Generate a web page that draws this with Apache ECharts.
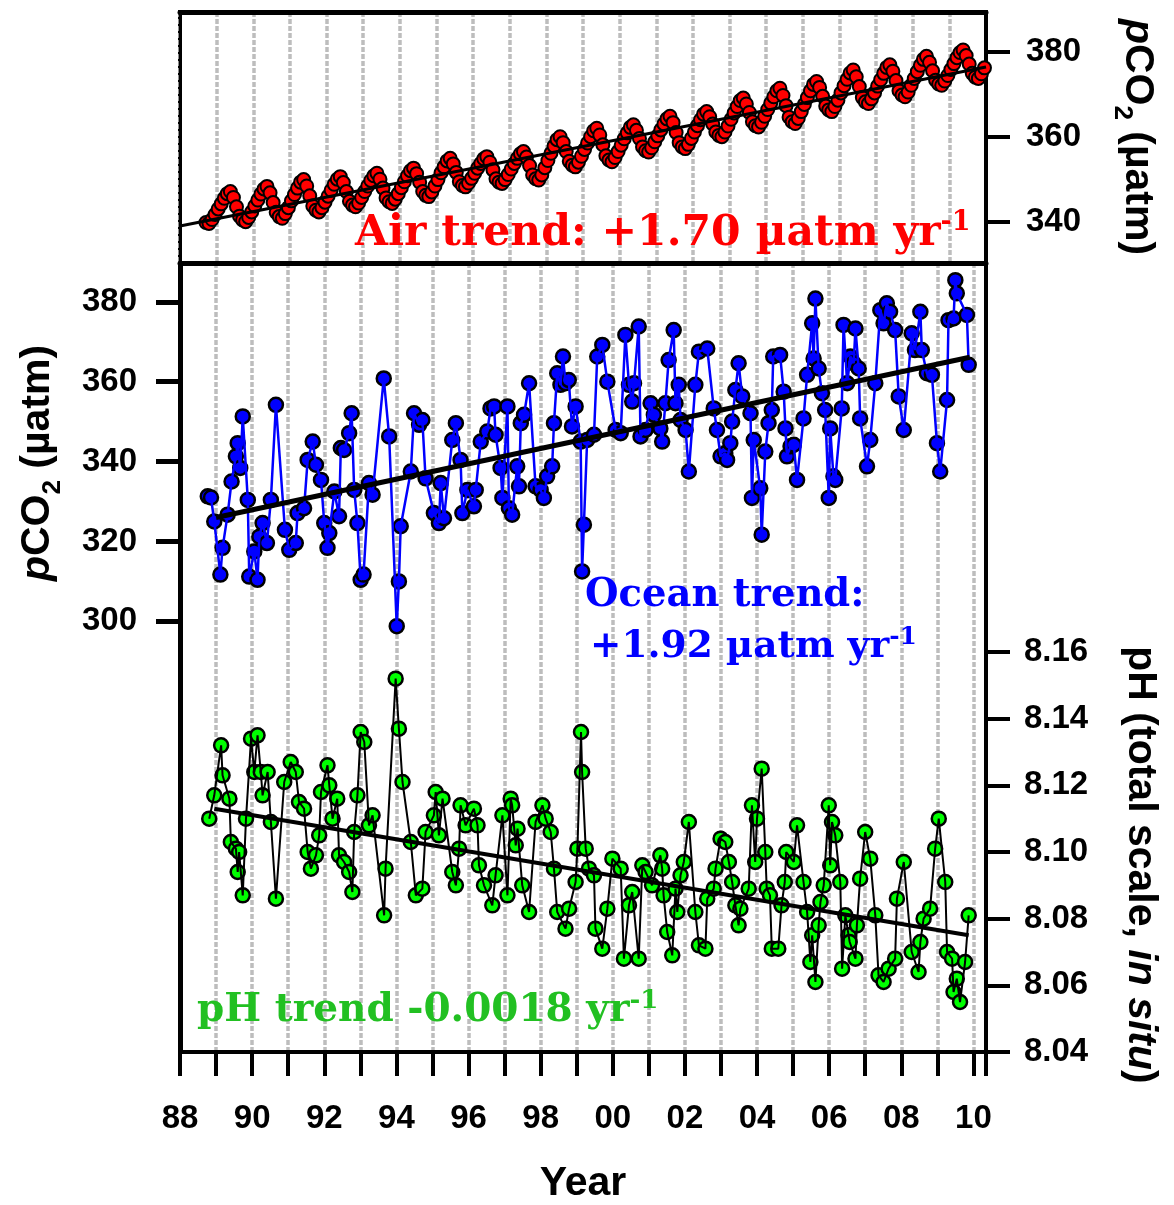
<!DOCTYPE html>
<html>
<head>
<meta charset="utf-8">
<title>HOT pCO2 and pH</title>
<script src="https://cdn.jsdelivr.net/npm/echarts@6/dist/echarts.min.js"></script>
<style>
  html, body { margin: 0; padding: 0; background: #fff; }
  #chart { width: 1174px; height: 1205px; }
</style>
</head>
<body>
<div id="chart"></div>
<script>
// air pCO2 (uatm), one value per month from Sep 1988 to Dec 2009
var airStart = 1988 + 8.5 / 12;
var airPco2 = [
  339.8, 339.6, 340.5, 341.7,
  343.0, 344.2, 345.5, 346.6, 347.1, 345.7, 343.5, 341.3, 340.4, 340.0, 341.0, 342.3,
  343.7, 345.1, 346.5, 347.7, 348.3, 346.8, 344.5, 342.2, 341.2, 340.8, 341.9, 343.3,
  344.9, 346.4, 347.9, 349.3, 349.9, 348.4, 346.1, 343.7, 342.7, 342.3, 343.3, 344.6,
  346.0, 347.4, 348.8, 350.0, 350.6, 349.2, 347.1, 344.8, 343.9, 343.5, 344.4, 345.7,
  347.1, 348.4, 349.7, 350.8, 351.4, 350.0, 347.9, 345.6, 344.7, 344.3, 345.3, 346.6,
  348.0, 349.4, 350.8, 352.0, 352.6, 351.3, 349.3, 347.1, 346.2, 345.9, 347.0, 348.4,
  349.9, 351.5, 352.9, 354.3, 354.9, 353.6, 351.6, 349.4, 348.5, 348.2, 349.1, 350.2,
  351.4, 352.6, 353.7, 354.8, 355.3, 354.0, 352.2, 350.1, 349.3, 349.0, 349.9, 351.1,
  352.4, 353.7, 354.9, 356.0, 356.5, 355.2, 353.2, 351.0, 350.1, 349.8, 351.0, 352.7,
  354.4, 356.1, 357.8, 359.3, 360.0, 358.6, 356.5, 354.2, 353.3, 352.9, 354.0, 355.4,
  357.0, 358.5, 360.0, 361.4, 362.0, 360.4, 358.1, 355.5, 354.5, 354.1, 355.1, 356.5,
  358.0, 359.5, 360.9, 362.2, 362.8, 361.5, 359.6, 357.6, 356.7, 356.4, 357.4, 358.8,
  360.2, 361.6, 363.0, 364.2, 364.8, 363.3, 361.0, 358.6, 357.6, 357.2, 358.2, 359.6,
  361.1, 362.6, 364.0, 365.3, 365.9, 364.7, 363.0, 361.1, 360.3, 360.0, 361.1, 362.5,
  364.1, 365.6, 367.1, 368.5, 369.1, 367.7, 365.7, 363.5, 362.6, 362.3, 363.4, 364.8,
  366.4, 367.9, 369.4, 370.8, 371.4, 369.7, 367.3, 364.6, 363.5, 363.1, 364.3, 365.9,
  367.6, 369.2, 370.8, 372.3, 373.0, 371.6, 369.5, 367.2, 366.3, 365.9, 367.1, 368.6,
  370.3, 372.0, 373.5, 375.0, 375.7, 374.1, 371.8, 369.2, 368.2, 367.8, 368.9, 370.3,
  371.9, 373.4, 374.9, 376.3, 376.9, 375.4, 373.2, 370.8, 369.8, 369.4, 370.5, 372.1,
  373.7, 375.3, 376.8, 378.2, 378.9, 377.5, 375.5, 373.3, 372.4, 372.1, 373.1, 374.4,
  375.8, 377.2, 378.6, 379.8, 380.4, 379.1, 377.1, 374.9, 374.0, 373.7, 374.8, 376.2
];
var airTrend = [[1988, 339.0], [2010, 376.4]];

// surface ocean pCO2 (uatm) per cruise [year, value]
var oceanPco2 = [
  [1988.77, 331.3], [1988.86, 331.0], [1988.95, 325.0], [1989.12, 311.7], [1989.18, 318.4],
  [1989.32, 326.7], [1989.43, 335.0], [1989.55, 341.3], [1989.60, 344.6], [1989.67, 338.4],
  [1989.74, 351.3], [1989.88, 330.4], [1989.92, 311.2], [1990.06, 317.5], [1990.15, 310.4],
  [1990.20, 321.2], [1990.29, 324.6], [1990.41, 319.6], [1990.52, 330.4], [1990.66, 354.2],
  [1990.91, 322.9], [1991.03, 317.9], [1991.21, 319.6], [1991.26, 327.1], [1991.44, 328.3],
  [1991.54, 340.4], [1991.68, 345.0], [1991.77, 339.2], [1991.91, 335.4], [1992.00, 324.6],
  [1992.09, 318.4], [1992.14, 322.1], [1992.28, 332.5], [1992.41, 326.3], [1992.46, 343.4],
  [1992.55, 342.9], [1992.69, 347.1], [1992.76, 352.1], [1992.83, 332.9], [1992.92, 324.6],
  [1993.01, 310.4], [1993.09, 311.7], [1993.24, 334.6], [1993.34, 331.7], [1993.65, 360.8],
  [1993.80, 346.3], [1994.01, 298.8], [1994.07, 310.0], [1994.12, 323.8], [1994.40, 337.5],
  [1994.49, 352.1], [1994.63, 349.2], [1994.72, 350.4], [1994.81, 335.8], [1995.04, 327.1],
  [1995.18, 324.6], [1995.23, 334.6], [1995.32, 325.8], [1995.55, 345.4], [1995.65, 349.6],
  [1995.78, 340.4], [1995.83, 327.1], [1995.97, 332.9], [1996.15, 328.8], [1996.20, 332.9],
  [1996.34, 345.0], [1996.52, 347.5], [1996.61, 353.3], [1996.71, 353.8], [1996.75, 346.7],
  [1996.89, 338.4], [1996.94, 330.9], [1997.08, 353.8], [1997.12, 328.3], [1997.21, 326.7],
  [1997.35, 338.8], [1997.40, 333.8], [1997.45, 349.6], [1997.54, 351.7], [1997.68, 359.6],
  [1997.86, 333.8], [1998.00, 332.9], [1998.09, 330.9], [1998.18, 336.3], [1998.32, 338.8],
  [1998.37, 349.6], [1998.46, 362.1], [1998.55, 359.2], [1998.62, 366.3], [1998.69, 359.6],
  [1998.78, 360.4], [1998.87, 348.8], [1998.97, 353.8], [1999.11, 345.0], [1999.15, 312.5],
  [1999.20, 324.2], [1999.29, 345.4], [1999.48, 346.7], [1999.57, 366.3], [1999.71, 369.2],
  [1999.85, 360.0], [2000.08, 347.9], [2000.22, 347.1], [2000.35, 371.7], [2000.45, 359.2],
  [2000.54, 355.0], [2000.59, 359.6], [2000.72, 373.8], [2000.77, 346.3], [2000.91, 347.9],
  [2001.05, 354.6], [2001.14, 351.7], [2001.32, 348.3], [2001.37, 345.0], [2001.46, 354.6],
  [2001.55, 365.4], [2001.69, 372.9], [2001.74, 354.6], [2001.83, 359.2], [2001.88, 350.4],
  [2002.02, 347.9], [2002.11, 337.5], [2002.29, 359.2], [2002.39, 367.5], [2002.62, 368.3],
  [2002.80, 353.3], [2002.89, 347.9], [2002.99, 341.3], [2003.12, 342.1], [2003.17, 340.4],
  [2003.26, 344.6], [2003.31, 350.0], [2003.40, 357.9], [2003.49, 364.6], [2003.59, 356.3],
  [2003.82, 352.1], [2003.86, 330.9], [2003.91, 345.4], [2004.09, 333.3], [2004.13, 321.7],
  [2004.23, 342.5], [2004.32, 349.6], [2004.41, 352.9], [2004.45, 366.3], [2004.64, 366.7],
  [2004.74, 357.5], [2004.79, 348.3], [2004.83, 341.3], [2004.93, 343.8], [2005.02, 344.2],
  [2005.11, 335.4], [2005.29, 350.8], [2005.39, 361.7], [2005.53, 374.6], [2005.57, 365.8],
  [2005.62, 380.8], [2005.71, 363.3], [2005.80, 357.1], [2005.89, 352.9], [2005.99, 330.9],
  [2006.03, 348.3], [2006.12, 336.3], [2006.17, 335.4], [2006.35, 353.3], [2006.40, 374.2],
  [2006.50, 359.6], [2006.59, 366.3], [2006.68, 364.6], [2006.73, 373.3], [2006.82, 363.3],
  [2006.86, 350.8], [2007.05, 338.8], [2007.14, 345.4], [2007.28, 359.6], [2007.42, 377.9],
  [2007.51, 374.6], [2007.60, 379.6], [2007.69, 377.5], [2007.83, 372.9], [2007.93, 356.3],
  [2008.07, 347.9], [2008.29, 372.1], [2008.38, 367.9], [2008.53, 377.5], [2008.57, 367.9],
  [2008.71, 362.1], [2008.85, 361.7], [2008.99, 344.6], [2009.08, 337.5], [2009.27, 355.4],
  [2009.31, 375.4], [2009.45, 375.8], [2009.50, 385.4], [2009.54, 382.1], [2009.82, 376.7],
  [2009.87, 364.2]
];
var oceanTrend = [[1989.0, 326.0], [2009.9, 366.1]];

// surface pH (total scale, in situ) per cruise [year, value]
var phValues = [
  [1988.81, 8.110], [1988.95, 8.117], [1989.14, 8.132], [1989.18, 8.123], [1989.37, 8.116],
  [1989.41, 8.103], [1989.55, 8.101], [1989.60, 8.094], [1989.64, 8.100], [1989.74, 8.087],
  [1989.83, 8.110], [1989.97, 8.134], [1990.06, 8.124], [1990.15, 8.135], [1990.24, 8.124],
  [1990.29, 8.117], [1990.43, 8.124], [1990.52, 8.109], [1990.66, 8.086], [1990.89, 8.121],
  [1991.07, 8.127], [1991.21, 8.124], [1991.30, 8.115], [1991.44, 8.113], [1991.54, 8.100],
  [1991.63, 8.095], [1991.77, 8.099], [1991.86, 8.105], [1991.91, 8.118], [1992.09, 8.126],
  [1992.14, 8.120], [1992.23, 8.110], [1992.36, 8.116], [1992.41, 8.099], [1992.55, 8.097],
  [1992.69, 8.094], [1992.78, 8.088], [1992.83, 8.106], [1992.92, 8.117], [1993.01, 8.136],
  [1993.11, 8.133], [1993.24, 8.108], [1993.34, 8.111], [1993.66, 8.081], [1993.70, 8.095],
  [1993.98, 8.152], [1994.07, 8.137], [1994.17, 8.121], [1994.40, 8.103], [1994.54, 8.087],
  [1994.72, 8.089], [1994.81, 8.106], [1995.04, 8.111], [1995.09, 8.118], [1995.18, 8.105],
  [1995.28, 8.116], [1995.55, 8.094], [1995.65, 8.090], [1995.74, 8.101], [1995.78, 8.114],
  [1995.92, 8.108], [1996.15, 8.113], [1996.25, 8.108], [1996.29, 8.096], [1996.43, 8.090],
  [1996.66, 8.084], [1996.75, 8.093], [1996.94, 8.111], [1997.08, 8.087], [1997.17, 8.116],
  [1997.21, 8.114], [1997.31, 8.102], [1997.36, 8.107], [1997.49, 8.090], [1997.68, 8.082],
  [1997.86, 8.109], [1998.05, 8.114], [1998.14, 8.110], [1998.28, 8.106], [1998.37, 8.095],
  [1998.46, 8.082], [1998.69, 8.077], [1998.79, 8.083], [1998.97, 8.091], [1999.02, 8.101],
  [1999.12, 8.136], [1999.15, 8.124], [1999.25, 8.101], [1999.34, 8.095], [1999.48, 8.093],
  [1999.52, 8.077], [1999.71, 8.071], [1999.85, 8.083], [1999.99, 8.098], [2000.22, 8.095],
  [2000.31, 8.068], [2000.45, 8.084], [2000.54, 8.088], [2000.72, 8.068], [2000.82, 8.096],
  [2000.91, 8.094], [2001.09, 8.090], [2001.32, 8.099], [2001.37, 8.095], [2001.41, 8.087],
  [2001.51, 8.076], [2001.65, 8.069], [2001.74, 8.089], [2001.79, 8.082], [2001.88, 8.093],
  [2001.97, 8.097], [2002.11, 8.109], [2002.29, 8.082], [2002.39, 8.072], [2002.57, 8.071],
  [2002.62, 8.086], [2002.80, 8.089], [2002.85, 8.095], [2002.99, 8.104], [2003.12, 8.103],
  [2003.22, 8.097], [2003.31, 8.091], [2003.40, 8.084], [2003.49, 8.078], [2003.54, 8.083],
  [2003.77, 8.089], [2003.86, 8.114], [2003.95, 8.097], [2004.00, 8.110], [2004.13, 8.125],
  [2004.23, 8.100], [2004.27, 8.089], [2004.36, 8.087], [2004.41, 8.071], [2004.59, 8.071],
  [2004.68, 8.084], [2004.77, 8.091], [2004.81, 8.100], [2005.02, 8.097], [2005.11, 8.108],
  [2005.29, 8.091], [2005.39, 8.082], [2005.48, 8.067], [2005.53, 8.075], [2005.62, 8.061],
  [2005.71, 8.078], [2005.76, 8.085], [2005.85, 8.090], [2005.99, 8.114], [2006.03, 8.096],
  [2006.08, 8.109], [2006.17, 8.105], [2006.31, 8.091], [2006.36, 8.065], [2006.45, 8.081],
  [2006.54, 8.075], [2006.57, 8.073], [2006.73, 8.068], [2006.77, 8.078], [2006.86, 8.092],
  [2007.00, 8.106], [2007.14, 8.098], [2007.28, 8.081], [2007.37, 8.063], [2007.51, 8.061],
  [2007.65, 8.065], [2007.83, 8.068], [2007.88, 8.086], [2008.07, 8.097], [2008.29, 8.070],
  [2008.48, 8.064], [2008.53, 8.073], [2008.62, 8.080], [2008.80, 8.083], [2008.94, 8.101],
  [2009.04, 8.110], [2009.22, 8.091], [2009.27, 8.070], [2009.41, 8.068], [2009.45, 8.058],
  [2009.54, 8.062], [2009.63, 8.055], [2009.77, 8.067], [2009.87, 8.081]
];
var phTrend = [[1988.95, 8.113], [2009.87, 8.075]];

// tick labels
var yearLabels = [1988, 1990, 1992, 1994, 1996, 1998, 2000, 2002, 2004, 2006, 2008, 2010];
var airTicks = [340, 360, 380];
var pco2Ticks = [300, 320, 340, 360, 380];
var phTicks = [8.04, 8.06, 8.08, 8.10, 8.12, 8.14, 8.16];

var airData = airPco2.map(function (v, i) { return [airStart + i / 12, v]; });

var sans = 'Liberation Sans, Arial, sans-serif';
var serif = 'DejaVu Serif, serif';
var tickFont = { fontFamily: sans, fontWeight: 'bold', fontSize: 33, color: '#000' };
var gridLine = { show: true, lineStyle: { color: '#bdbdbd', width: 3.5, type: [5, 2] } };
var blackTick = { color: '#000', width: 4 };

function tok(size, color, extra) {
  var o = { fontFamily: serif, fontWeight: 'bold', fontSize: size, fill: color };
  for (var k in extra) o[k] = extra[k];
  return o;
}
function titleTok(size, extra) {
  var o = { fontFamily: sans, fontWeight: 'bold', fontSize: size, fill: '#000', lineHeight: 56 };
  for (var k in extra) o[k] = extra[k];
  return o;
}

var myChart = echarts.init(document.getElementById('chart'));
var option = {
  animation: false,
  backgroundColor: '#fff',
  grid: [
    { left: 180, right: 188, top: 12, height: 251, show: true, borderColor: '#000', borderWidth: 4, outerBoundsMode: 'none' },
    { left: 180, right: 188, top: 263, height: 789, show: true, borderColor: '#000', borderWidth: 4, outerBoundsMode: 'none' }
  ],
  xAxis: [
    {
      type: 'value', gridIndex: 0, position: 'top', min: 1988, max: 2010, interval: 1,
      axisLine: { show: true, onZero: false, lineStyle: { color: '#000', width: 5 } },
      axisTick: { show: false }, axisLabel: { show: false },
      splitLine: gridLine
    },
    {
      type: 'value', gridIndex: 1, min: 1988, max: 2010.35, interval: 1,
      axisLine: { show: true, onZero: false, lineStyle: blackTick },
      axisTick: { show: true, length: 24, lineStyle: blackTick },
      axisLabel: Object.assign({
        customValues: yearLabels, margin: 50,
        formatter: function (v) { return String(v).slice(2); }
      }, tickFont),
      splitLine: gridLine
    },
    {
      // top edge of the lower panel
      type: 'value', gridIndex: 1, position: 'top', min: 1988, max: 2010.35,
      axisLine: { show: true, onZero: false, lineStyle: { color: '#000', width: 5 } },
      axisTick: { show: false }, axisLabel: { show: false }, splitLine: { show: false }
    }
  ],
  yAxis: [
    {
      type: 'value', gridIndex: 0, position: 'right', min: 330.28, max: 389.34,
      axisLine: { show: true, lineStyle: blackTick },
      axisTick: { show: true, length: 24, customValues: airTicks, lineStyle: blackTick },
      axisLabel: Object.assign({ customValues: airTicks, margin: 40 }, tickFont),
      splitLine: { show: false }
    },
    {
      type: 'value', gridIndex: 1, position: 'left', min: 192.2, max: 389.7,
      axisLine: { show: true, onZero: false, lineStyle: { color: '#000', width: 5 } },
      axisTick: { show: true, length: 24, customValues: pco2Ticks, lineStyle: { color: '#000', width: 5 } },
      axisLabel: Object.assign({ customValues: pco2Ticks, margin: 43 }, tickFont),
      splitLine: { show: false }
    },
    {
      type: 'value', gridIndex: 1, position: 'right', min: 8.04, max: 8.2767,
      axisLine: { show: true, onZero: false, lineStyle: blackTick },
      axisTick: { show: true, length: 24, customValues: phTicks, lineStyle: blackTick },
      axisLabel: Object.assign({
        customValues: phTicks, margin: 38,
        formatter: function (v) { return v.toFixed(2); }
      }, tickFont),
      splitLine: { show: false }
    },
    {
      // left edge of the upper panel
      type: 'value', gridIndex: 0, position: 'left', min: 330.28, max: 389.34,
      axisLine: { show: true, onZero: false, lineStyle: { color: '#000', width: 3 } },
      axisTick: { show: false }, axisLabel: { show: false }, splitLine: { show: false }
    }
  ],
  series: [
    {
      name: 'Air trend', type: 'line', xAxisIndex: 0, yAxisIndex: 0, data: airTrend,
      showSymbol: false, silent: true, lineStyle: { color: '#000', width: 3 }
    },
    {
      name: 'Air pCO2', type: 'scatter', xAxisIndex: 0, yAxisIndex: 0, data: airData,
      symbolSize: 13, itemStyle: { color: '#ff0000', borderColor: '#000', borderWidth: 2, opacity: 1 }
    },
    {
      name: 'Ocean pCO2 line', type: 'line', xAxisIndex: 1, yAxisIndex: 1, data: oceanPco2,
      showSymbol: false, silent: true, lineStyle: { color: '#0000ff', width: 2.5 }
    },
    {
      name: 'pH line', type: 'line', xAxisIndex: 1, yAxisIndex: 2, data: phValues,
      showSymbol: false, silent: true, lineStyle: { color: '#000', width: 2 }
    },
    {
      name: 'Ocean trend', type: 'line', xAxisIndex: 1, yAxisIndex: 1, data: oceanTrend,
      showSymbol: false, silent: true, lineStyle: { color: '#000', width: 5 }
    },
    {
      name: 'pH trend', type: 'line', xAxisIndex: 1, yAxisIndex: 2, data: phTrend,
      showSymbol: false, silent: true, lineStyle: { color: '#000', width: 4 }
    },
    {
      name: 'Ocean pCO2', type: 'scatter', xAxisIndex: 1, yAxisIndex: 1, data: oceanPco2,
      symbolSize: 14, itemStyle: { color: '#0000ff', borderColor: '#000', borderWidth: 2.5, opacity: 1 }
    },
    {
      name: 'pH', type: 'scatter', xAxisIndex: 1, yAxisIndex: 2, data: phValues,
      symbolSize: 14, itemStyle: { color: '#00ff00', borderColor: '#000', borderWidth: 2.5, opacity: 1 }
    }
  ],
  graphic: [
    {
      type: 'text', x: 355, y: 234, z: 100,
      style: {
        text: '{m|Air trend: +1.70 \u00b5atm yr}{s|-1}', align: 'left', verticalAlign: 'middle',
        rich: { m: tok(42.5, '#ff0000', { lineHeight: 50 }), s: tok(27, '#ff0000', { verticalAlign: 'top' }) }
      }
    },
    {
      type: 'text', x: 585, y: 596, z: 100,
      style: {
        text: 'Ocean trend:', align: 'left', verticalAlign: 'middle',
        fontFamily: serif, fontWeight: 'bold', fontSize: 38.5, fill: '#0000ff'
      }
    },
    {
      type: 'text', x: 590, y: 647, z: 100,
      style: {
        text: '{m|+1.92 \u00b5atm yr}{s|-1}', align: 'left', verticalAlign: 'middle',
        rich: { m: tok(37.5, '#0000ff', { lineHeight: 44 }), s: tok(25, '#0000ff', { verticalAlign: 'top' }) }
      }
    },
    {
      type: 'text', x: 197, y: 1011, z: 100,
      style: {
        text: '{m|pH trend -0.0018 yr}{s|-1}', align: 'left', verticalAlign: 'middle',
        rich: { m: tok(39, '#22c022', { lineHeight: 46 }), s: tok(26, '#22c022', { verticalAlign: 'top' }) }
      }
    },
    {
      type: 'text', x: 38, y: 463, rotation: Math.PI / 2, z: 100,
      style: {
        text: '{i|p}{m|CO}{b|2}{m| (\u00b5atm)}', align: 'center', verticalAlign: 'middle',
        rich: { i: titleTok(41, { fontStyle: 'italic' }), m: titleTok(41), b: titleTok(26, { lineHeight: 26, verticalAlign: 'bottom' }) }
      }
    },
    {
      type: 'text', x: 1137, y: 137, rotation: -Math.PI / 2, z: 100,
      style: {
        text: '{i|p}{m|CO}{b|2}{m| (\u00b5atm)}', align: 'center', verticalAlign: 'middle',
        rich: { i: titleTok(41, { fontStyle: 'italic' }), m: titleTok(41), b: titleTok(26, { lineHeight: 26, verticalAlign: 'bottom' }) }
      }
    },
    {
      type: 'text', x: 1140, y: 865, rotation: -Math.PI / 2, z: 100,
      style: {
        text: '{m|pH (total scale, }{i|in situ}{m|)}', align: 'center', verticalAlign: 'middle',
        rich: { m: titleTok(41), i: titleTok(41, { fontStyle: 'italic' }) }
      }
    },
    {
      type: 'text', x: 583, y: 1184, z: 100,
      style: {
        text: 'Year', align: 'center', verticalAlign: 'middle',
        fontFamily: sans, fontWeight: 'bold', fontSize: 41, fill: '#000'
      }
    }
  ]
};
myChart.setOption(option);
</script>
</body>
</html>
